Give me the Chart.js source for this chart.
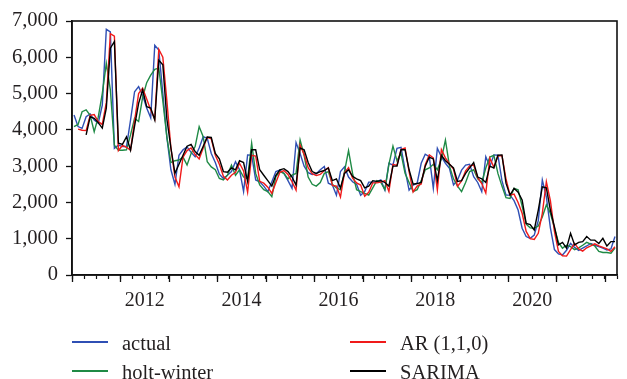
<!DOCTYPE html>
<html>
<head>
<meta charset="utf-8">
<script src="https://cdn.jsdelivr.net/npm/chart.js@4/dist/chart.umd.min.js"></script>
<style>
  html, body { margin: 0; padding: 0; background: #fff; }
  #wrap { position: relative; width: 627px; height: 379px; }
  #legend { position: absolute; left: 0; top: 0; width: 627px; height: 379px; pointer-events: none;
            font-family: "Liberation Serif", "DejaVu Serif", serif; font-size: 20.5px; color: #231f20; }
  .item { position: absolute; height: 24px; line-height: 24px; white-space: nowrap; }
  .item .swatch { position: absolute; left: 0; top: 10px; width: 36px; height: 1.6px; }
  .item .label { position: absolute; left: 50px; top: 0; }
</style>
</head>
<body>
<div id="wrap">
  <canvas id="c" width="627" height="379"></canvas>
  <div id="legend"></div>
</div>
<script>
// Monthly series, January 2011 to March 2022
const startYear = 2011;
const tickYears = [2012, 2014, 2016, 2018, 2020];
const seriesNames = ['actual', 'AR (1,1,0)', 'holt-winter', 'SARIMA'];
const seriesColors = ['#2f4fb4', '#f01a1a', '#1f8a45', '#000000'];

const actual = [
  4410, 4090, 4040, 4360, 4440, 4270, 4180, 4680, 6770, 6700,
  3490, 3580, 3540, 3540, 4270, 5050, 5190, 4950, 4600, 4330,
  6330, 6200, 5000, 3800, 2900, 2500, 3300, 3450, 3530, 3380,
  3260, 3500, 3810, 3770, 3350, 3100, 2780, 2660, 2750, 2850,
  3120, 2900, 2300, 3310, 3300, 2620, 2570, 2450, 2300, 2570,
  2850, 2890, 2800, 2600, 2390, 3650, 3350, 3000, 2820, 2770,
  2790, 2900, 2990, 2530, 2480, 2200, 2850, 2980, 2700, 2570,
  2500, 2200, 2300, 2560, 2560, 2570, 2620, 2340, 3080, 3030,
  3490, 3520, 2900, 2340, 2480, 2530, 3080, 3330, 3260, 2390,
  3490, 3260, 3080, 2940, 2480, 2620, 2890, 3030, 3050, 2710,
  2550, 2300, 3260, 2990, 3310, 3300, 2600, 2200, 2200, 2050,
  1790, 1290, 1060, 1010, 1100, 1500, 2620, 2150, 1300, 700,
  580, 550, 680, 870, 760, 680, 740, 800, 870, 820,
  780, 740, 690, 720, 1060
];

const arForecast = [
  null, 4020, 3990, 3980, 4400, 4420, 4230, 4150, 4750, 6650,
  6580, 3430, 3570, 3520, 3440, 4250, 5000, 5150, 4850, 4550,
  4300, 6220, 6000, 4800, 3500, 2700, 2430, 3250, 3430, 3500,
  3320, 3200, 3500, 3800, 3750, 3300, 3050, 2720, 2620, 2750,
  2830, 3080, 2870, 2280, 3300, 3280, 2580, 2530, 2420, 2250,
  2550, 2830, 2880, 2770, 2570, 2340, 3580, 3320, 2960, 2790,
  2740, 2770, 2880, 2960, 2470, 2450, 2150, 2820, 2960, 2670,
  2540, 2480, 2170, 2280, 2540, 2540, 2560, 2600, 2300, 3050,
  3020, 3460, 3500, 2850, 2290, 2450, 2510, 3040, 3310, 3230,
  2340, 3460, 3230, 3060, 2920, 2440, 2590, 2870, 3010, 3030,
  2680, 2520, 2260, 3220, 2970, 3280, 3290, 2650, 2200, 2230,
  2000, 1700, 1200, 1000, 980, 1150, 1700, 2570, 2050, 1200,
  650, 530, 520, 700, 870, 720, 660, 750, 800, 860,
  800, 760, 720, 650, 780
];

const holtWinter = [
  4090, 4150, 4500, 4550, 4400, 3950, 4350, 5000, 5830, 5100,
  3580, 3440, 3440, 3450, 3860, 4320, 4230, 4900, 5300, 5510,
  5670, 5700, 4800, 3800, 3100, 3150, 3170, 3250, 3030, 3350,
  3540, 4090, 3810, 3120, 2980, 2900, 2660, 2620, 2750, 3030,
  2750, 2900, 2700, 2650, 3630, 2800, 2480, 2350, 2300, 2160,
  2710, 2850, 2800, 2650, 2750, 2800, 3720, 3300, 2700, 2500,
  2450, 2550, 2800, 2850, 2500, 2400, 2350, 2850, 3430, 2800,
  2350, 2300, 2250, 2200, 2400, 2600, 2550, 2350, 3050, 3550,
  3150, 3350, 2800, 2550, 2300, 2350, 2600, 2900, 2950, 3050,
  2900, 3200, 3720, 3000, 2650, 2450, 2300, 2550, 2850, 2900,
  2650, 2550, 2950, 3250, 3300, 2800, 2450, 2130, 2110, 2390,
  2350, 1900, 1400, 1300, 1290, 1350, 1600, 1930, 1700, 1300,
  900, 740, 820, 780, 700, 750, 820, 900, 850, 800,
  650, 620, 620, 600, 740
];

const sarima = [
  null, null, null, 3860, 4360, 4320, 4200, 4050, 4600, 6250,
  6430, 3630, 3600, 3810, 3440, 4100, 4730, 5100, 4640, 4600,
  4270, 5920, 5790, 4300, 3500, 2800, 3050, 3300, 3550, 3600,
  3400, 3300, 3550, 3800, 3790, 3350, 3200, 2850, 2830, 2950,
  2900, 3150, 3100, 2580, 3450, 3450, 2900, 2750, 2600, 2450,
  2750, 2900, 2930, 2850, 2700, 2480, 3500, 3450, 3100, 2850,
  2800, 2850, 2880, 2950, 2600, 2650, 2400, 2800, 2900, 2720,
  2650, 2600, 2400, 2450, 2600, 2580, 2600, 2550, 2450, 3000,
  3000, 3450, 3450, 2900, 2500, 2520, 2550, 3000, 3250, 3200,
  2600, 3300, 3150, 3050, 2950, 2580, 2600, 2800, 2950, 3100,
  2700, 2650, 2550, 3000, 2950, 3300, 3310, 2530, 2200, 2390,
  2280, 2070, 1420, 1390, 1240, 1790, 2430, 2400, 1790, 1330,
  830, 900, 740, 1150, 830, 900, 920, 1060, 960, 960,
  870, 1010, 800, 920, 920
];

// x position of each observation: middle of its month
const monthX = actual.map((_, i) => startYear + (i + 0.5) / 12);
const seriesValues = [actual, arForecast, holtWinter, sarima];

const datasets = seriesValues.map((vals, k) => ({
  label: seriesNames[k],
  data: vals.map((v, i) => ({ x: monthX[i], y: v })),
  borderColor: seriesColors[k],
  borderWidth: 1.4,
  pointRadius: 0,
  tension: 0,
  spanGaps: false,
  order: k === 3 ? 0 : k === 0 ? 3 : k
}));

const serif = "'Liberation Serif', 'DejaVu Serif', serif";

// plot frame and long yearly tick marks
const framePlugin = {
  id: 'frame',
  afterDraw(chart) {
    const { ctx, chartArea: a, scales } = chart;
    ctx.save();
    ctx.strokeStyle = '#111';
    ctx.lineWidth = 1.6;
    ctx.strokeRect(a.left, a.top, a.right - a.left, a.bottom - a.top);
    ctx.lineWidth = 1.3;
    ctx.beginPath();
    for (let yr = Math.ceil(scales.x.min); yr <= scales.x.max; yr++) {
      const px = Math.round(scales.x.getPixelForValue(yr)) + 0.5;
      ctx.moveTo(px, a.bottom);
      ctx.lineTo(px, a.bottom + 7);
    }
    ctx.stroke();
    ctx.restore();
  }
};

new Chart(document.getElementById('c'), {
  type: 'line',
  data: { datasets },
  options: {
    responsive: false,
    animation: false,
    layout: { padding: { left: 0, right: 1, top: 21, bottom: 64 } },
    plugins: { legend: { display: false }, tooltip: { enabled: false } },
    scales: {
      x: {
        type: 'linear',
        min: startYear,
        max: startYear + actual.length / 12,
        afterFit(scale) { scale.height = 40; },
        afterBuildTicks(scale) {
          const t = [];
          for (let q = 0; q <= actual.length / 3; q++) t.push({ value: startYear + q / 4 });
          scale.ticks = t;
        },
        ticks: {
          autoSkip: false,
          maxRotation: 0,
          padding: 10,
          color: '#231f20',
          font: { family: serif, size: 20 },
          callback(v) {
            const yr = Math.round(v - 0.5);
            return (Math.abs(v - yr - 0.5) < 1e-6 && tickYears.includes(yr)) ? String(yr) : '';
          }
        },
        grid: { drawOnChartArea: false, tickLength: 4, tickColor: '#111', tickWidth: 1.2 },
        border: { color: '#111', width: 1.6 }
      },
      y: {
        min: 0,
        max: 7000,
        afterFit(scale) { scale.width = 72; },
        ticks: {
          stepSize: 1000,
          padding: 8,
          color: '#231f20',
          font: { family: serif, size: 20.5 },
          callback: v => v.toLocaleString('en-US')
        },
        grid: { drawOnChartArea: false, tickLength: 6, tickColor: '#111', tickWidth: 1.3 },
        border: { color: '#111', width: 1.6 }
      }
    }
  },
  plugins: [framePlugin]
});

// two-column legend beneath the plot
const legendPos = [[72, 331], [350, 331], [72, 360], [350, 360]];
const legend = document.getElementById('legend');
seriesNames.forEach((name, k) => {
  const it = document.createElement('div');
  it.className = 'item';
  it.style.left = legendPos[k][0] + 'px';
  it.style.top = legendPos[k][1] + 'px';
  const sw = document.createElement('span');
  sw.className = 'swatch';
  sw.style.background = seriesColors[k];
  const lb = document.createElement('span');
  lb.className = 'label';
  lb.textContent = name;
  it.appendChild(sw);
  it.appendChild(lb);
  legend.appendChild(it);
});
</script>
</body>
</html>
